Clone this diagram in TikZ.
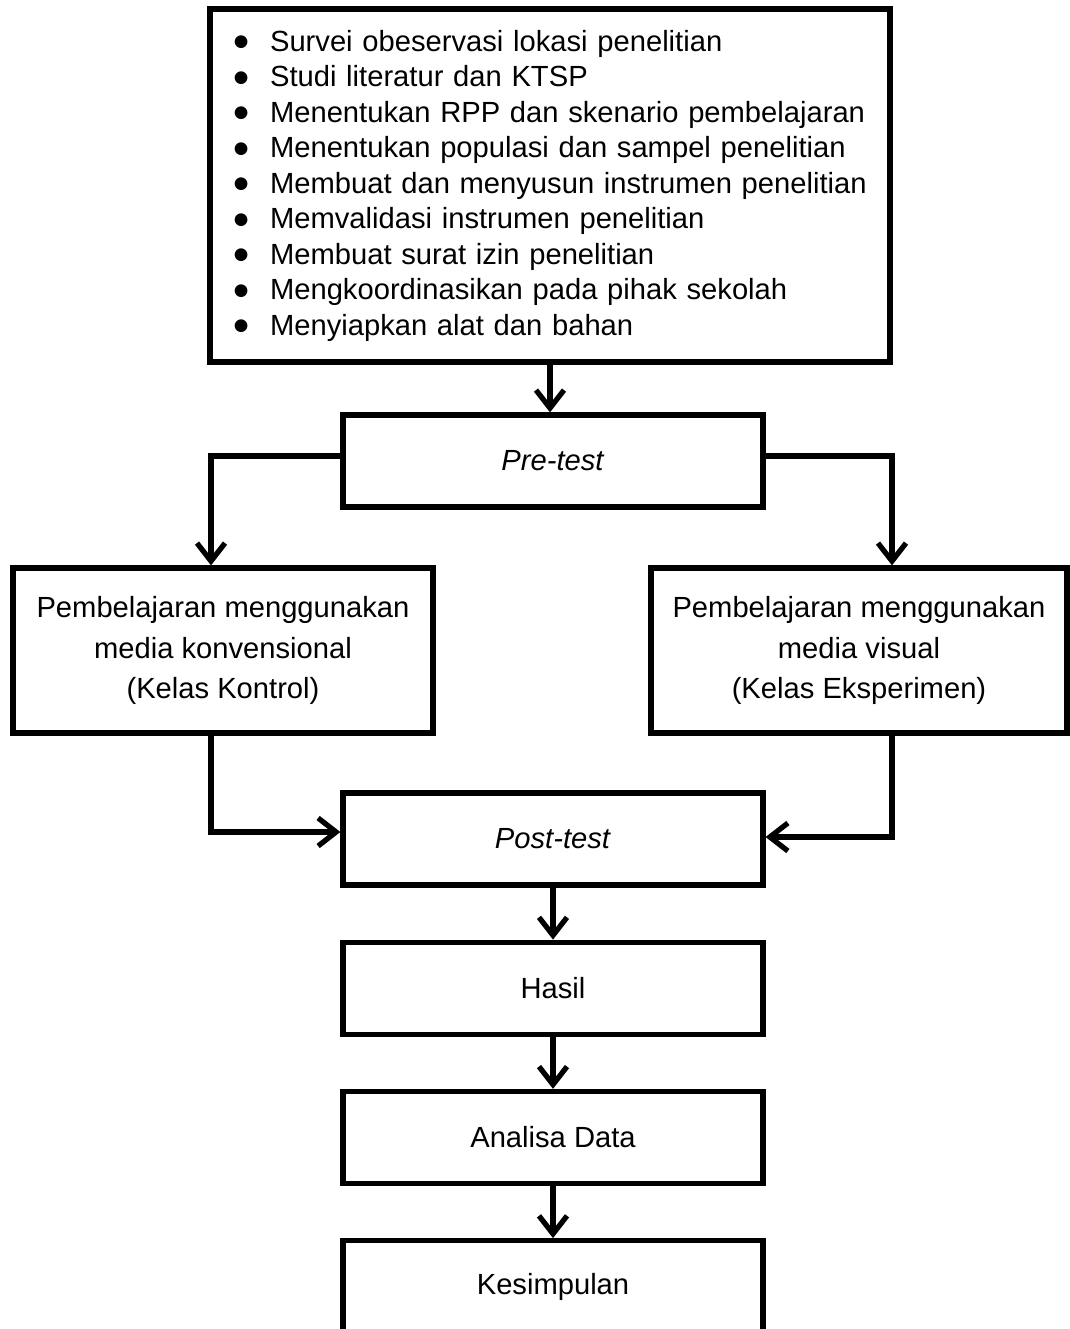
\documentclass[tikz,border=0pt]{standalone}
\usepackage{fontspec}
\setmainfont{Liberation Sans}
\newfontfamily\dejavu{DejaVu Sans}
\usetikzlibrary{arrows.meta,positioning}
\newcommand{\itm}[1]{\makebox[0.76cm][l]{\hspace{1pt}\raisebox{2.5pt}{\dejavu\fontsize{9.5}{10}\selectfont ●}}#1}

\begin{document}
\begin{tikzpicture}[
    x=0.02cm, y=-0.02cm,
    node distance=1.04cm,
    box/.style={draw, line width=3pt, minimum width=8.4cm, minimum height=1.84cm,
                align=center, font=\fontsize{16.6}{22.8}\selectfont},
    arr/.style={-{Straight Barb[length=0.36cm, width=0.56cm]}, line width=3pt}
  ]
  \useasboundingbox (0,0) rectangle (1070,1329);
  \node[box, minimum width=13.6cm, minimum height=7.06cm, text width=12.72cm,
        inner xsep=0.44cm, align=left, font=\fontsize{16.6}{20.2}\selectfont]
    (rencana) at (550,185.5) {\itm{Survei obeservasi lokasi penelitian}\\
    \itm{Studi literatur dan KTSP}\\
    \itm{Menentukan RPP dan skenario pembelajaran}\\
    \itm{Menentukan populasi dan sampel penelitian}\\
    \itm{Membuat dan menyusun instrumen penelitian}\\
    \itm{Memvalidasi instrumen penelitian}\\
    \itm{Membuat surat izin penelitian}\\
    \itm{Mengkoordinasikan pada pihak sekolah}\\
    \itm{Menyiapkan alat dan bahan}};
  \node[box] (pre) at (553,461) {\textit{Pre-test}};
  \node[box, minimum height=3.3cm] (kontrol) at (223,650.5)
    {Pembelajaran menggunakan\\media konvensional\\(Kelas Kontrol)};
  \node[box, minimum width=8.32cm, minimum height=3.3cm] (eksperimen) at (859,650.5)
    {Pembelajaran menggunakan\\media visual\\(Kelas Eksperimen)};
  \node[box] (post) at (553,839) {\textit{Post-test}};
  \node[box, below=of post] (hasil) {Hasil};
  \node[box, below=of hasil] (analisa) {Analisa Data};
  \node[box, below=of analisa] (simpul) {Kesimpulan};
  % connectors
  \draw[arr] (rencana.south) -- (rencana.south |- pre.north);
  \draw[arr] ([yshift=0.1cm]pre.west) -| ([xshift=-0.24cm]kontrol.north);
  \draw[arr] ([yshift=0.1cm]pre.east) -| ([xshift=0.66cm]eksperimen.north);
  \draw[arr] ([xshift=-0.24cm]kontrol.south) |- ([yshift=0.14cm]post.west);
  \draw[arr] ([xshift=0.66cm]eksperimen.south) |- ([yshift=0.04cm]post.east);
  \draw[arr] (post) -- (hasil);
  \draw[arr] (hasil) -- (analisa);
  \draw[arr] (analisa) -- (simpul);
\end{tikzpicture}
\end{document}
